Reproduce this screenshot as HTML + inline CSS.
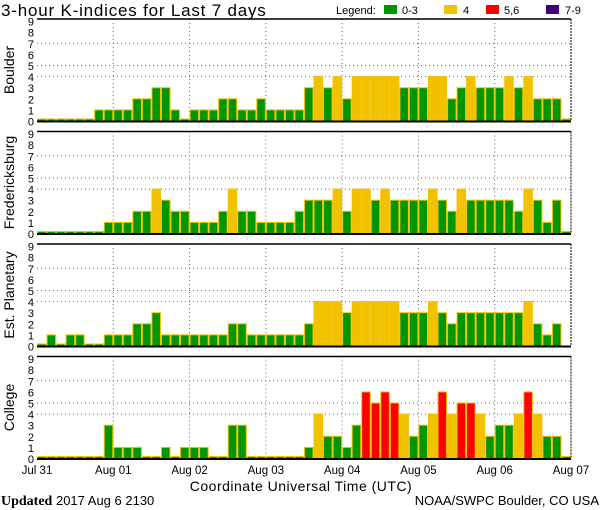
<!DOCTYPE html>
<html><head><meta charset="utf-8"><style>
body{margin:0;background:#fff;}
svg{display:block;font-family:"Liberation Sans",sans-serif;}
</style></head><body>
<svg id="chart" width="600" height="510" viewBox="0 0 600 510" xmlns="http://www.w3.org/2000/svg">
<rect width="600" height="510" fill="#fff"/>
<text x="1" y="16" font-size="17" letter-spacing="0.8" fill="#000">3-hour K-indices for Last 7 days</text>
<g font-size="11">
<text x="336" y="14">Legend:</text>
<rect x="384" y="5" width="13" height="9" fill="#009600"/>
<text x="402" y="14">0-3</text>
<rect x="444" y="5" width="13" height="9" fill="#f2c200"/>
<text x="463" y="14">4</text>
<rect x="486" y="5" width="13" height="9" fill="#ff0000"/>
<text x="504" y="14">5,6</text>
<rect x="546" y="5" width="13" height="9" fill="#3c0080"/>
<text x="565" y="14">7-9</text>
</g>
<g id="panels"></g>
<text x="301" y="491" font-size="14" letter-spacing="0.5" text-anchor="middle">Coordinate Universal Time (UTC)</text>
<text x="1" y="505" font-size="13"><tspan font-family="Liberation Serif" font-weight="bold" font-size="14">Updated</tspan> 2017 Aug  6 2130</text>
<text x="599" y="505" font-size="13" text-anchor="end">NOAA/SWPC Boulder, CO USA</text>
</svg>
<script>
const stations = ["Boulder","Fredericksburg","Est. Planetary","College"];
const boulder = [0,0,0,0,0,0,1,1,1,1,2,2,3,3,1,0,1,1,1,2,2,1,1,2,1,1,1,1,3,4,3,4,2,4,4,4,4,4,3,3,3,4,4,2,3,4,3,3,3,4,3,4,2,2,2,0];
const fredericksburg = [0,0,0,0,0,0,0,1,1,1,2,2,4,3,2,2,1,1,1,2,4,2,2,1,1,1,1,2,3,3,3,4,2,4,4,3,4,3,3,3,3,4,3,2,4,3,3,3,3,3,2,4,3,1,3,0];
const planetary = [0,1,0,1,1,0,0,1,1,1,2,2,3,1,1,1,1,1,1,1,2,2,1,1,1,1,1,1,2,4,4,4,3,4,4,4,4,4,3,3,3,4,3,2,3,3,3,3,3,3,3,4,2,1,2,null];
const college = [0,0,0,0,0,0,0,3,1,1,1,0,0,1,0,1,1,1,0,0,3,3,0,0,0,0,0,0,1,4,2,2,1,3,6,5,6,5,4,2,3,4,6,4,5,5,4,2,3,3,4,6,4,2,2,0];
const dayLabels = ["Jul 31","Aug 01","Aug 02","Aug 03","Aug 04","Aug 05","Aug 06","Aug 07"];
const yTicks = [0,1,2,3,4,5,6,7,8,9];
const gridLevels = [4,5,7];

const series = [boulder, fredericksburg, planetary, college];
const NS = "http://www.w3.org/2000/svg";
const X0 = 37, X1 = 571, nBars = 56;
const bw = (X1 - X0) / nBars;
const panelTops = [19, 131.5, 244, 356.5];
const PH = 102, unit = 11.1;
const xScale = i => X0 + i * bw;
const dayX = d => X0 + d * (X1 - X0) / 7;
function mk(tag, attrs, parent){const e=document.createElementNS(NS,tag);for(const k in attrs)e.setAttribute(k,attrs[k]);parent.appendChild(e);return e;}
function color(v){return v<=3?"#009600":v==4?"#f2c200":v<=6?"#ff0000":"#3c0080";}
const root = document.getElementById("panels");
series.forEach((vals, p) => {
  const top = panelTops[p], bot = top + PH;
  const yScale = v => bot - v * unit;
  const g = mk("g", {}, root);
  
  
  gridLevels.forEach(l => {
    const ln = mk("line",{x1:X0,x2:X1,y1:yScale(l),y2:yScale(l),stroke:"#666","stroke-dasharray":"1 3"},g);
    
    
  });
  for (let d=1; d<7; d++){
    const ln = mk("line",{x1:dayX(d),x2:dayX(d),y1:top,y2:bot,stroke:"#666","stroke-dasharray":"1 3"},g);
    
    
  }
  vals.forEach((v,i) => {
    if (v === null) return;
    const y = v === 0 ? bot - 2 : yScale(v);
    const r = mk("rect",{x:xScale(i)+0.5,y:y,width:bw-1,height:bot-y,fill:color(v),stroke:"#f2c200","stroke-width":1},g);
    
    
  });
  const t = mk("line",{x1:X0,x2:X1,y1:top,y2:top,stroke:"#000","stroke-width":1.5},g);
  
  
  const b = mk("line",{x1:X0,x2:X1,y1:bot+0.5,y2:bot+0.5,stroke:"#000","stroke-width":2},g);
  
  
  const rt = mk("line",{x1:X1,x2:X1,y1:top,y2:bot,stroke:"#000","stroke-dasharray":"2 1"},g);
  
  
  yTicks.forEach(v => {
    const tx = mk("text",{x:34,y:yScale(v)+4.5,"font-size":11,"text-anchor":"end"},g);
    tx.textContent = v;
    
    
  });
  const cy = top + PH/2;
  const yt = mk("text",{x:14,y:cy,"font-size":14,"text-anchor":"middle",transform:"rotate(-90 14 "+cy+")"},g);
  yt.textContent = stations[p];
  
  
});
dayLabels.forEach((l,d) => {
  const tx = mk("text",{x:dayX(d),y:474,"font-size":11.5,"text-anchor":"middle"},root);
  tx.textContent = l;
  
  
});
</script>
</body></html>
